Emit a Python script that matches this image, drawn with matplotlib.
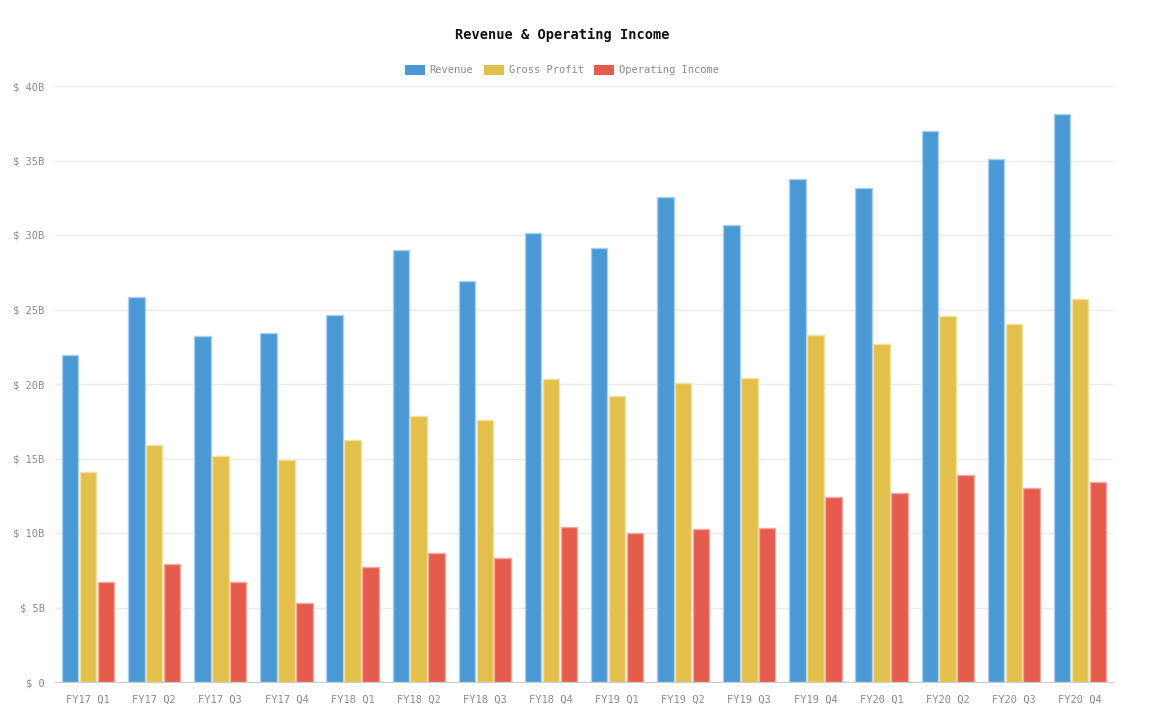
import matplotlib
matplotlib.use("Agg")
import matplotlib.pyplot as plt
import numpy as np
from matplotlib.patches import Patch

quarters = ["FY17 Q1", "FY17 Q2", "FY17 Q3", "FY17 Q4",
            "FY18 Q1", "FY18 Q2", "FY18 Q3", "FY18 Q4",
            "FY19 Q1", "FY19 Q2", "FY19 Q3", "FY19 Q4",
            "FY20 Q1", "FY20 Q2", "FY20 Q3", "FY20 Q4"]
revenue = [21.97, 25.87, 23.25, 23.39, 24.6, 28.96, 26.88, 30.15,
           29.14, 32.53, 30.64, 33.78, 33.13, 36.96, 35.08, 38.1]
gross_profit = [14.09, 15.93, 15.17, 14.88, 16.26, 17.88, 17.56, 20.36,
                19.2, 20.07, 20.43, 23.32, 22.69, 24.58, 24.06, 25.72]
operating_income = [6.72, 7.93, 6.72, 5.33, 7.71, 8.67, 8.29, 10.4,
                    9.97, 10.26, 10.35, 12.41, 12.7, 13.91, 12.99, 13.42]
series_names = ["Revenue", "Gross Profit", "Operating Income"]
yticks = [0, 5, 10, 15, 20, 25, 30, 35, 40]
ytick_labels = ["$ 0", "$ 5B", "$ 10B", "$ 15B", "$ 20B", "$ 25B", "$ 30B", "$ 35B", "$ 40B"]

colors = ["#4a99d5", "#e3c04c", "#e55c4d"]
edges = ["#a9d0ee", "#f2e0a2", "#f2aaa2"]
font = ["DejaVu Sans Mono"]

W, H = 1149, 720
fig = plt.figure(figsize=(W / 100, H / 100), dpi=100)
ax = fig.add_axes([55 / W, 38 / H, 1058 / W, 596 / H])

x = np.arange(len(quarters))
bw = 0.25
offs = [-0.27, 0.0, 0.27]
for vals, c, e, o, n in zip([revenue, gross_profit, operating_income], colors, edges, offs, series_names):
    ax.bar(x + o, vals, width=bw, color=c, edgecolor=e, linewidth=1.0, zorder=3, label=n)

ax.set_xlim(-0.5, len(quarters) - 0.5)
ax.set_ylim(0, 40)
ax.set_yticks(yticks)
ax.set_yticklabels(ytick_labels)
ax.set_xticks(x)
ax.set_xticklabels(quarters)
ax.grid(axis="y", color="#ebebeb", linewidth=1, zorder=0)
ax.set_axisbelow(True)
for s in ["top", "right", "left"]:
    ax.spines[s].set_visible(False)
ax.spines["bottom"].set_color("#cccccc")
ax.tick_params(axis="both", length=0, colors="#999999", labelsize=7.5)
ax.tick_params(axis="y", pad=7.5)
ax.tick_params(axis="x", pad=9)
for lab in ax.get_xticklabels() + ax.get_yticklabels():
    lab.set_family(font)
    lab.set_color("#8c8c8c")

fig.text(562 / W, 1 - 35 / H, "Revenue & Operating Income", ha="center", va="center",
         family=font, fontsize=9.8, fontweight="bold", color="#111111")

handles = [Patch(facecolor=c, edgecolor="none") for c in colors]
leg = fig.legend(handles, series_names, loc="center", bbox_to_anchor=(562 / W, 1 - 70 / H),
                 ncol=3, frameon=False, prop={"family": font[0], "size": 7.5},
                 handlelength=1.9, handleheight=1.1, handletextpad=0.5, columnspacing=1.0)
for t in leg.get_texts():
    t.set_color("#8c8c8c")

fig.savefig("out.png", dpi=100)
